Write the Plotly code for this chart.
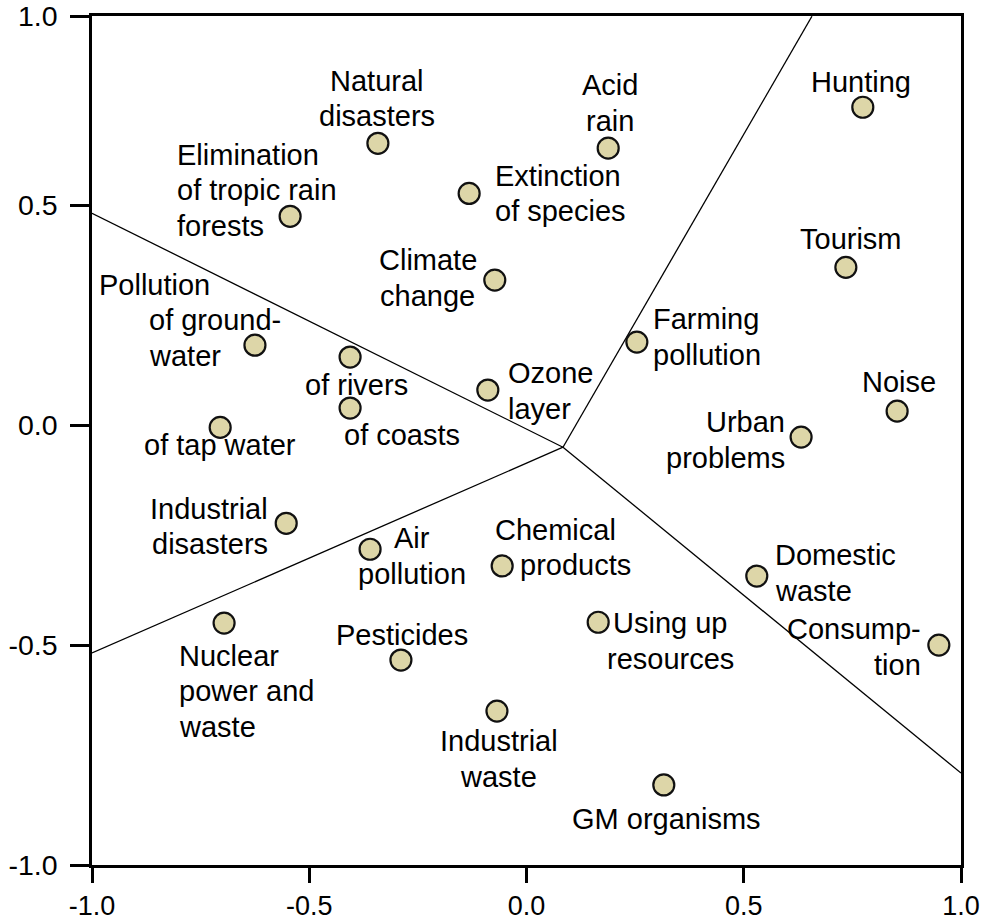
import plotly.graph_objects as go

# ---- data ----
names = ["Hunting", "Tourism", "Noise", "Urban problems", "Farming pollution",
         "Domestic waste", "Consumption", "Acid rain", "Natural disasters",
         "Extinction of species", "Elimination of tropic rain forests",
         "Climate change", "Pollution of groundwater", "Pollution of rivers",
         "Pollution of coasts", "Pollution of tap water", "Ozone layer",
         "Industrial disasters", "Air pollution", "Chemical products",
         "Using up resources", "Nuclear power and waste", "Pesticides",
         "Industrial waste", "GM organisms"]
x_vals = [0.774, 0.735, 0.853, 0.632, 0.254,
          0.530, 0.949, 0.188, -0.342,
          -0.132, -0.544,
          -0.073, -0.625, -0.406,
          -0.406, -0.705, -0.089,
          -0.553, -0.360, -0.056,
          0.165, -0.696, -0.289,
          -0.068, 0.316]
y_vals = [0.723, 0.359, 0.032, -0.027, 0.189,
          -0.343, -0.500, 0.630, 0.641,
          0.527, 0.475,
          0.330, 0.182, 0.155,
          0.039, -0.005, 0.080,
          -0.223, -0.282, -0.320,
          -0.448, -0.450, -0.534,
          -0.650, -0.818]

# boundary lines: common centre and the four end points
centre_xy = (0.084, -0.050)
boundary_ends_x = [0.657, -1.0, -1.0, 1.0]
boundary_ends_y = [0.930, 0.482, -0.518, -0.791]

x_tick_vals = [-1.0, -0.5, 0.0, 0.5, 1.0]
x_tick_text = ["-1.0", "-0.5", "0.0", "0.5", "1.0"]
y_tick_vals = [-1.0, -0.5, 0.0, 0.5, 0.93]
y_tick_text = ["-1.0", "-0.5", "0.0", "0.5", "1.0"]

# ---- label placement (style, not data) ----
# (point name, lines, xanchor, xshift, yshift of block centre)
labels = [
    ("Hunting", ["Hunting"], "center", -2, 25),
    ("Tourism", ["Tourism"], "center", 5, 28),
    ("Noise", ["Noise"], "center", 2, 29),
    ("Urban problems", ["Urban", "problems"], "right", -14, -3),
    ("Farming pollution", ["Farming", "pollution"], "left", 14, 5),
    ("Domestic waste", ["Domestic", "waste"], "left", 16, 3),
    ("Consumption", ["Consump-", "tion"], "right", -16, -2),
    ("Acid rain", ["Acid", "rain"], "center", 2, 45),
    ("Natural disasters", ["Natural", "disasters"], "center", -1, 45),
    ("Extinction of species", ["Extinction", "of species"], "left", 24, 0),
    ("Elimination of tropic rain forests", ["Elimination", "of tropic rain", "forests"], "left", -115, 26),
    ("Climate change", ["Climate", "change"], "center", -67, 2),
    ("Pollution of groundwater", ["Pollution"], "left", -158, 60),
    ("Pollution of groundwater", ["of ground-", "water"], "left", -108, 7),
    ("Pollution of rivers", ["of rivers"], "center", 6, -28),
    ("Pollution of coasts", ["of coasts"], "left", -8, -27),
    ("Pollution of tap water", ["of tap water"], "center", 0, -18),
    ("Ozone layer", ["Ozone", "layer"], "left", 18, -1),
    ("Industrial disasters", ["Industrial", "disasters"], "right", -16, -3),
    ("Air pollution", ["Air", "pollution"], "center", 42, -7),
    ("Chemical products", ["Chemical"], "left", -9, 36),
    ("Chemical products", ["products"], "left", 16, 1),
    ("Using up resources", ["Using up", "resources"], "center", 72, -19),
    ("Nuclear power and waste", ["Nuclear", "power and", "waste"], "left", -47, -68),
    ("Pesticides", ["Pesticides"], "center", 1, 25),
    ("Industrial waste", ["Industrial", "waste"], "center", 2, -48),
    ("GM organisms", ["GM organisms"], "center", 3, -34),
]
LINE_STEP = 35.5

FONT = "Arial, 'Liberation Sans', sans-serif"

fig = go.Figure()

for ex, ey in zip(boundary_ends_x, boundary_ends_y):
    fig.add_trace(go.Scatter(
        x=[centre_xy[0], ex], y=[centre_xy[1], ey], mode="lines",
        line=dict(color="black", width=1.3), hoverinfo="skip", showlegend=False))

fig.add_trace(go.Scatter(
    x=x_vals, y=y_vals, mode="markers", text=names, showlegend=False,
    marker=dict(size=21, color="#DDD6A8", line=dict(color="#111111", width=2.2))))

idx = {n: i for i, n in enumerate(names)}
for name, lines, xa, dx, dy in labels:
    i = idx[name]
    n = len(lines)
    for k, line in enumerate(lines):
        fig.add_annotation(x=x_vals[i], y=y_vals[i], xref="x", yref="y", text=line,
                           showarrow=False, xanchor=xa, yanchor="middle",
                           xshift=dx, yshift=dy + ((n - 1) / 2 - k) * LINE_STEP,
                           font=dict(family=FONT, size=29, color="black"))

axis_common = dict(showline=True, linecolor="black", linewidth=2.5, mirror=True,
                   showgrid=False, zeroline=False, ticks="outside",
                   tickwidth=2.5, tickcolor="black", automargin=False)

fig.update_xaxes(range=[-1, 1], tickvals=x_tick_vals, ticktext=x_tick_text,
                 ticklen=15, ticklabelstandoff=0,
                 tickfont=dict(family=FONT, size=27, color="black"), **axis_common)
fig.update_yaxes(range=[-1, 0.9305], tickvals=y_tick_vals, ticktext=y_tick_text,
                 ticklen=19, ticklabelstandoff=7,
                 tickfont=dict(family=FONT, size=28.5, color="black"), **axis_common)

fig.update_layout(width=990, height=922,
                  margin=dict(l=92, r=29, t=16, b=57),
                  plot_bgcolor="white", paper_bgcolor="white",
                  font=dict(family=FONT))

fig.write_html("out.html", config={"displayModeBar": False},
               post_script="document.body.style.margin='0';document.body.style.overflow='hidden';")
